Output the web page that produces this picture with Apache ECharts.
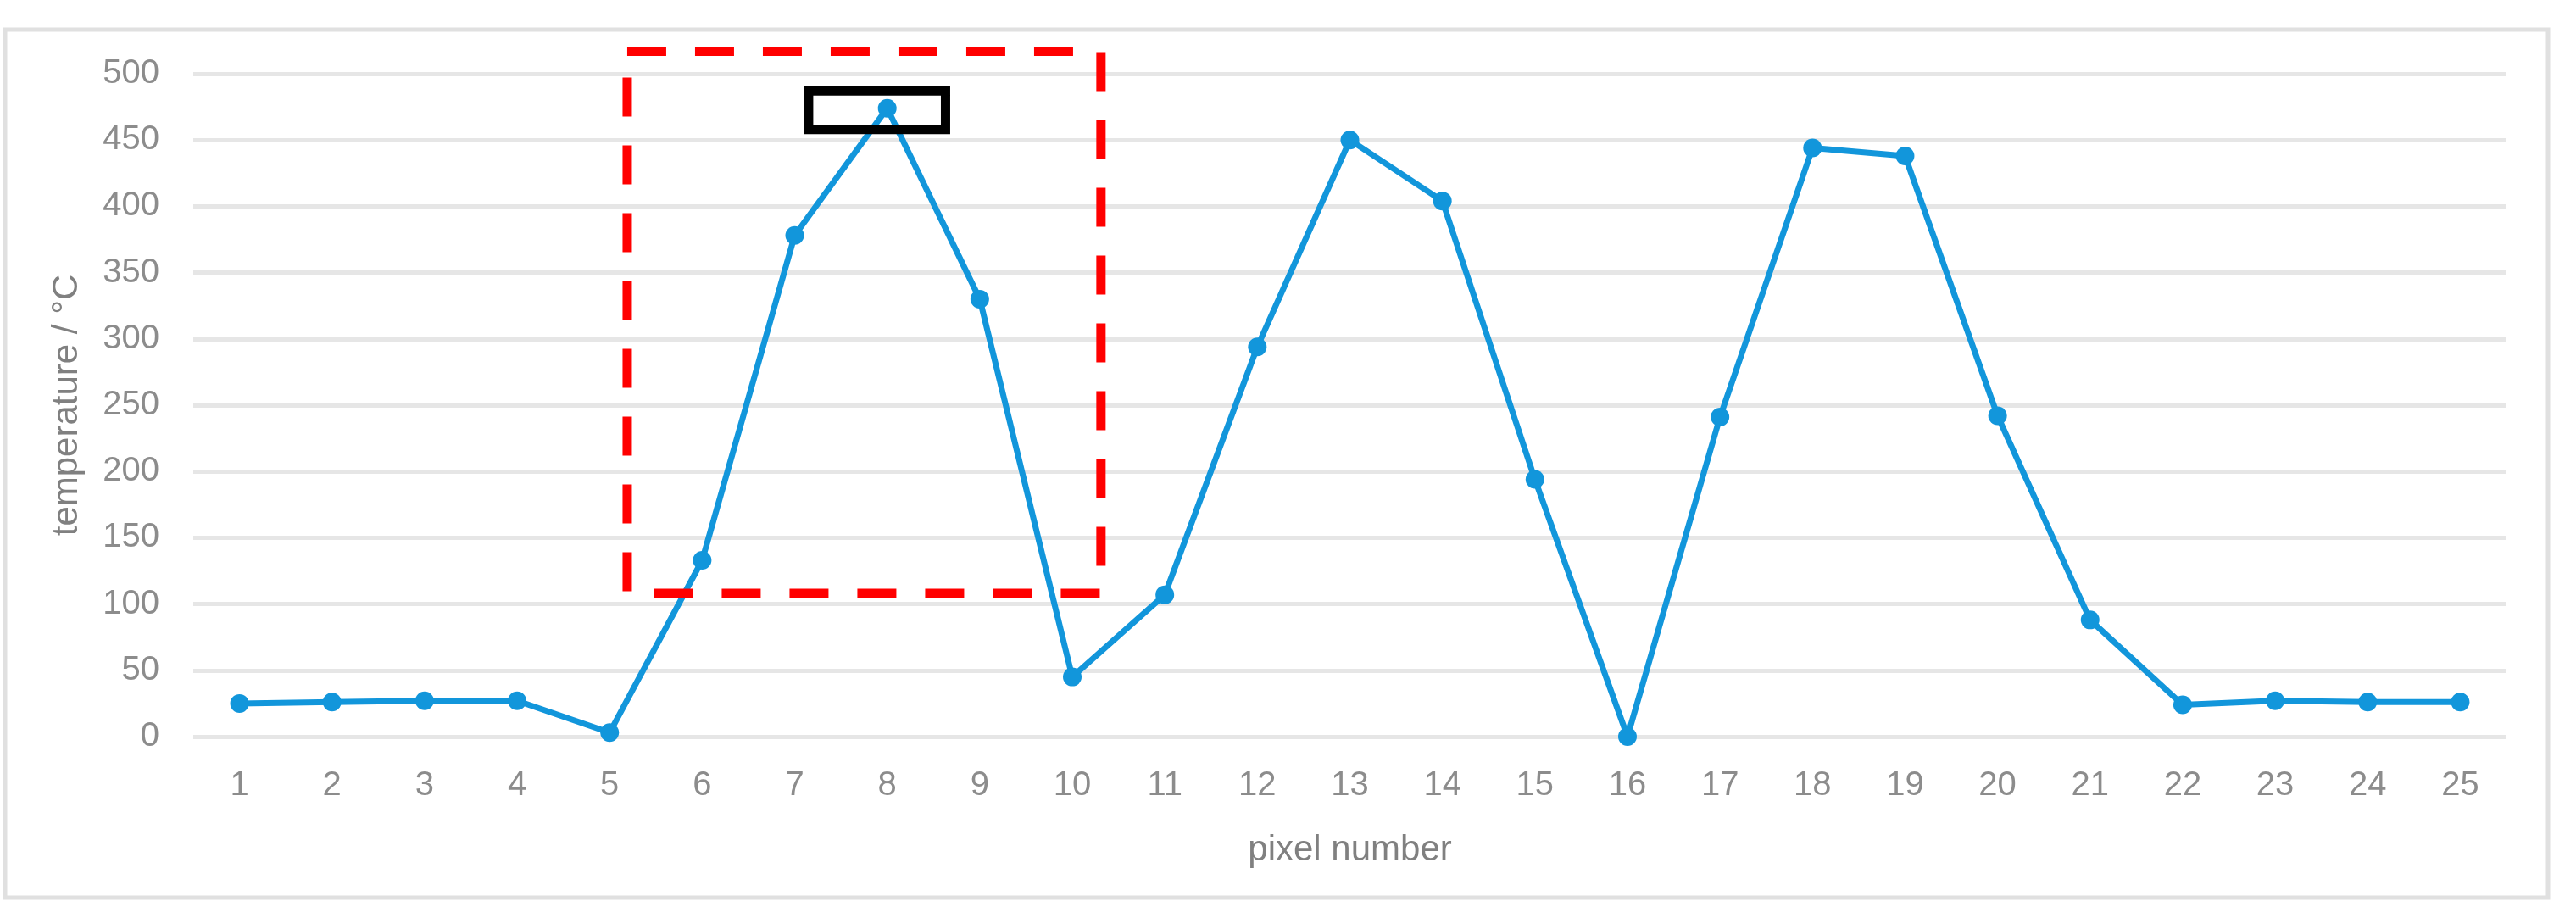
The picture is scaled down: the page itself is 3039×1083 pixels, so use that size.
<!DOCTYPE html>
<html>
<head>
<meta charset="utf-8">
<title>pixel temperature</title>
<script src="https://cdn.jsdelivr.net/npm/echarts@6/dist/echarts.min.js"></script>
<style>
  html, body { margin: 0; padding: 0; background: #ffffff; }
  #main { width: 3039px; height: 1083px; }
</style>
</head>
<body>
<div id="main"></div>
<script>
  // 横轴: 像素编号
  const pixelNumbers = ['1','2','3','4','5','6','7','8','9','10','11','12','13','14','15','16','17','18','19','20','21','22','23','24','25'];
  // 每个像素的温度 (°C)
  const temperatures = [25, 26, 27, 27, 3, 133, 378, 474, 330, 45, 107, 294, 450, 404, 194, 0, 241, 444, 438, 242, 88, 24, 27, 26, 26];
  // y轴刻度
  const yTicks = [0, 50, 100, 150, 200, 250, 300, 350, 400, 450, 500];

  // 标注框 (数据坐标: x 为像素编号, y 为温度)
  const redBox = { x0: 5.19, x1: 10.31, y0: 108, y1: 517 };
  const blackBox = { x0: 7.15, x1: 8.63, y0: 458, y1: 487 };

  const fontFamily = '"Liberation Sans", Arial, sans-serif';
  const lineColor = '#1296db';

  let myChart = echarts.init(document.getElementById('main'));

  let option = {
    backgroundColor: '#ffffff',
    animation: false,
    textStyle: { fontFamily: fontFamily },
    grid: {
      left: 228,
      right: 82,
      top: 87,
      bottom: 214
    },
    xAxis: [
      {
        type: 'category',
        data: pixelNumbers,
        boundaryGap: true,
        name: 'pixel number',
        nameLocation: 'middle',
        nameGap: 113,
        nameTextStyle: { color: '#808080', fontSize: 42, fontFamily: fontFamily },
        axisLine: { show: false },
        axisTick: { show: false },
        axisLabel: { color: '#8c8c8c', fontSize: 40, margin: 38, fontFamily: fontFamily },
        splitLine: { show: false }
      },
      {
        // 隐藏的数值轴, 只用于定位标注框
        type: 'value',
        min: 0.5,
        max: 25.5,
        show: false
      }
    ],
    yAxis: {
      type: 'value',
      min: yTicks[0],
      max: yTicks[yTicks.length - 1],
      interval: yTicks[1] - yTicks[0],
      name: 'temperature / °C',
      nameLocation: 'middle',
      nameGap: 128,
      nameRotate: 90,
      nameTextStyle: { color: '#808080', fontSize: 42, fontFamily: fontFamily },
      axisLine: { show: false },
      axisTick: { show: false },
      axisLabel: { color: '#8c8c8c', fontSize: 40, margin: 40, fontFamily: fontFamily },
      splitLine: {
        show: true,
        lineStyle: { color: '#e6e6e6', width: 5 }
      }
    },
    series: [
      {
        name: 'temperature',
        type: 'line',
        data: temperatures,
        symbol: 'circle',
        symbolSize: 22,
        itemStyle: { color: lineColor },
        lineStyle: { color: lineColor, width: 7 },
        clip: false,
        z: 3
      }
    ]
  };

  myChart.setOption(option);

  // 把数据坐标的框换成像素, 画成虚线/实线矩形
  function boxGraphic(box, color, dash) {
    const p1 = myChart.convertToPixel({ xAxisIndex: 1, yAxisIndex: 0 }, [box.x0, box.y1]);
    const p2 = myChart.convertToPixel({ xAxisIndex: 1, yAxisIndex: 0 }, [box.x1, box.y0]);
    return {
      type: 'rect',
      z: 100,
      shape: { x: p1[0], y: p1[1], width: p2[0] - p1[0], height: p2[1] - p1[1] },
      style: { fill: 'none', stroke: color, lineWidth: 11, lineDash: dash }
    };
  }

  myChart.setOption({
    graphic: [
      {
        // 外框
        type: 'rect',
        z: 0,
        silent: true,
        shape: { x: 6, y: 35, width: 3000, height: 1024 },
        style: { fill: 'none', stroke: '#e0e0e0', lineWidth: 5 }
      },
      boxGraphic(redBox, '#ff0000', [46, 34]),
      boxGraphic(blackBox, '#000000', null)
    ]
  });

  window.addEventListener('resize', function () {
    myChart.resize();
  });
</script>
</body>
</html>
